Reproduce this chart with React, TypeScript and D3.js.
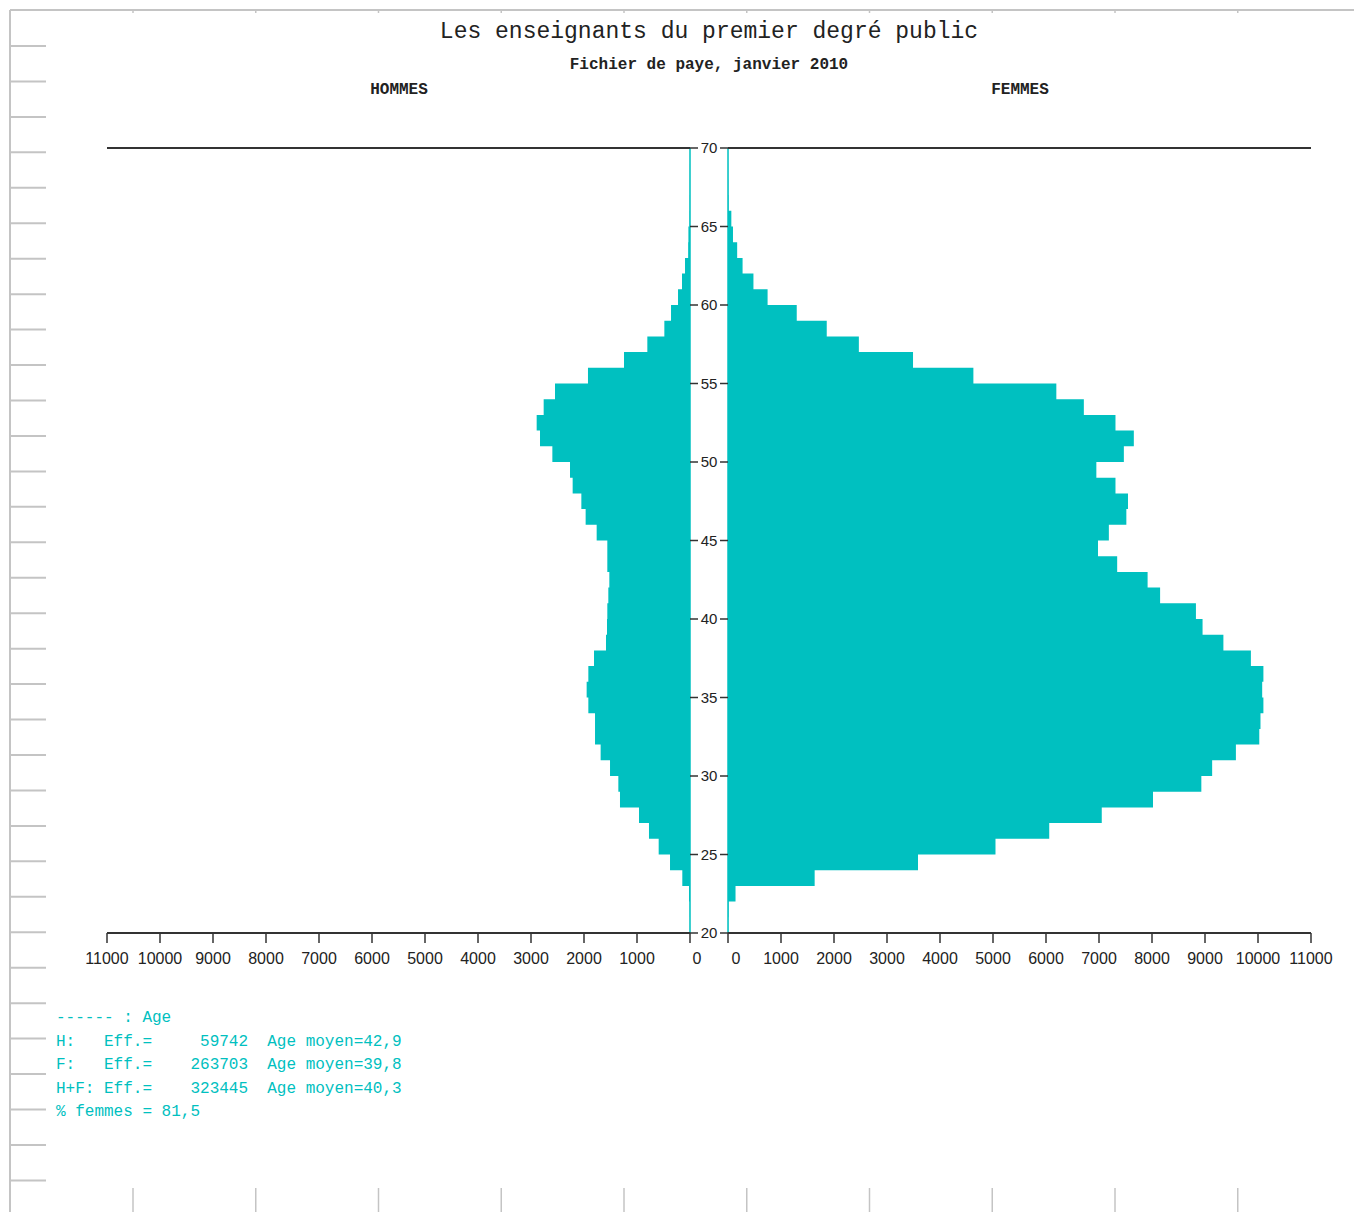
import React, { useEffect } from 'react';
import * as d3 from 'd3';

// ---- Data ----
const AGES = [20, 21, 22, 23, 24, 25, 26, 27, 28, 29, 30, 31, 32, 33, 34, 35, 36, 37, 38, 39,
  40, 41, 42, 43, 44, 45, 46, 47, 48, 49, 50, 51, 52, 53, 54, 55, 56, 57, 58, 59,
  60, 61, 62, 63, 64, 65, 66, 67, 68, 69];

const HOMMES = [2, 4, 19, 145, 377, 591, 774, 962, 1321, 1352,
  1509, 1686, 1792, 1792, 1918, 1950, 1918, 1811, 1585, 1566,
  1560, 1541, 1522, 1560, 1560, 1761, 1969, 2050, 2214, 2264,
  2597, 2830, 2893, 2761, 2547, 1925, 1245, 805, 484, 358,
  226, 151, 94, 35, 30, 8, 5, 3, 2, 1];

const FEMMES = [5, 10, 142, 1635, 3585, 5047, 6061, 7052, 8019, 8931,
  9135, 9583, 10024, 10047, 10102, 10079, 10102, 9866, 9347, 8954,
  8829, 8153, 7917, 7343, 6981, 7186, 7516, 7547, 7311, 6950,
  7469, 7657, 7311, 6714, 6195, 4630, 3491, 2469, 1863, 1297,
  747, 480, 275, 173, 94, 63, 10, 5, 3, 2];

const VALUE_TICKS = [0, 1000, 2000, 3000, 4000, 5000, 6000, 7000, 8000, 9000, 10000, 11000];
const AGE_TICKS = [20, 25, 30, 35, 40, 45, 50, 55, 60, 65, 70];

const TITLE = 'Les enseignants du premier degré public';
const SUBTITLE = 'Fichier de paye, janvier 2010';
const LEFT_LABEL = 'HOMMES';
const RIGHT_LABEL = 'FEMMES';
const LEGEND_LINES = [
  '------ : Age',
  'H:   Eff.=     59742  Age moyen=42,9',
  'F:   Eff.=    263703  Age moyen=39,8',
  'H+F: Eff.=    323445  Age moyen=40,3',
  '% femmes = 81,5',
];

// ---- Layout ----
const W = 1354;
const H = 1212;
const CYAN = '#00c0c0';
const AXIS = '#333333';
const FRAME = '#c4c4c4';

export default function App() {
  useEffect(() => {
    document.body.style.margin = '0';
  }, []);

  const y = d3.scaleLinear().domain([20, 70]).range([933, 148]);
  const xL = d3.scaleLinear().domain([0, 11000]).range([690, 107]);
  const xR = d3.scaleLinear().domain([0, 11000]).range([728, 1311]);

  type P = { age: number; v: number };
  const menPts: P[] = AGES.map((a, i) => ({ age: a, v: HOMMES[i] }));
  menPts.push({ age: 70, v: HOMMES[HOMMES.length - 1] });
  const womenPts: P[] = AGES.map((a, i) => ({ age: a, v: FEMMES[i] }));
  womenPts.push({ age: 70, v: FEMMES[FEMMES.length - 1] });

  const menArea = d3.area<P>()
    .y(d => y(d.age))
    .x0(xL(0))
    .x1(d => xL(d.v))
    .curve(d3.curveStepBefore);
  const womenArea = d3.area<P>()
    .y(d => y(d.age))
    .x0(xR(0))
    .x1(d => xR(d.v))
    .curve(d3.curveStepBefore);

  const midX = (xL(0) + xR(0)) / 2;

  // frame decoration
  const frameLeftTicks = d3.range(33).map(i => 46 + i * 35.45);
  const frameXTicks = d3.range(10).map(i => 133 + i * 122.75);

  const mono = '"Liberation Mono", "DejaVu Sans Mono", monospace';
  const sans = '"Liberation Sans", Arial, sans-serif';

  return (
    <svg
      width={W}
      height={H}
      viewBox={`0 0 ${W} ${H}`}
      style={{ position: 'absolute', left: 0, top: 0, background: '#fff', display: 'block' }}
    >
      <rect x={0} y={0} width={W} height={H} fill="#fff" />

      {/* frame */}
      <line x1={10} y1={10} x2={10} y2={H} stroke={FRAME} strokeWidth={2} />
      <line x1={10} y1={10} x2={W} y2={10} stroke={FRAME} strokeWidth={2} />
      {frameLeftTicks.map((ty, i) => (
        <line key={'fl' + i} x1={10} x2={46} y1={ty} y2={ty} stroke={FRAME} strokeWidth={2} />
      ))}
      {frameXTicks.map((tx, i) => (
        <g key={'fx' + i}>
          <line x1={tx} x2={tx} y1={10} y2={13} stroke={FRAME} strokeWidth={1.5} />
          <line x1={tx} x2={tx} y1={1188} y2={H} stroke={FRAME} strokeWidth={1.5} />
        </g>
      ))}

      {/* titles */}
      <text x={709} y={38} textAnchor="middle" fontFamily={mono} fontSize={23} fill="#222">{TITLE}</text>
      <text x={709} y={69} textAnchor="middle" fontFamily={mono} fontSize={16} fontWeight="bold" fill="#222">{SUBTITLE}</text>
      <text x={399} y={94} textAnchor="middle" fontFamily={mono} fontSize={16} fontWeight="bold" fill="#222">{LEFT_LABEL}</text>
      <text x={1020} y={94} textAnchor="middle" fontFamily={mono} fontSize={16} fontWeight="bold" fill="#222">{RIGHT_LABEL}</text>

      {/* bars */}
      <path d={menArea(menPts) || ''} fill={CYAN} />
      <path d={womenArea(womenPts) || ''} fill={CYAN} />

      {/* zero lines */}
      <line x1={xL(0)} x2={xL(0)} y1={y(70)} y2={y(20)} stroke={CYAN} strokeWidth={1.5} />
      <line x1={xR(0)} x2={xR(0)} y1={y(70)} y2={y(20)} stroke={CYAN} strokeWidth={1.5} />

      {/* top and bottom axis lines */}
      {[70, 20].map(a => (
        <g key={'h' + a}>
          <line x1={xL(11000)} x2={xL(0)} y1={y(a)} y2={y(a)} stroke={AXIS} strokeWidth={2} />
          <line x1={xR(0)} x2={xR(11000)} y1={y(a)} y2={y(a)} stroke={AXIS} strokeWidth={2} />
        </g>
      ))}

      {/* value ticks and labels */}
      {VALUE_TICKS.map(v => (
        <g key={'vt' + v}>
          <line x1={xL(v)} x2={xL(v)} y1={y(20)} y2={y(20) + 10} stroke={AXIS} strokeWidth={1.5} />
          <line x1={xR(v)} x2={xR(v)} y1={y(20)} y2={y(20) + 10} stroke={AXIS} strokeWidth={1.5} />
          <text x={xL(v) + (v === 0 ? 7 : 0)} y={964} textAnchor="middle" fontFamily={sans} fontSize={16} fill="#222">{v}</text>
          <text x={xR(v) + (v === 0 ? 8 : 0)} y={964} textAnchor="middle" fontFamily={sans} fontSize={16} fill="#222">{v}</text>
        </g>
      ))}

      {/* age ticks in the middle */}
      {AGE_TICKS.map(a => (
        <g key={'at' + a}>
          <line x1={xL(0)} x2={xL(0) + 8} y1={y(a)} y2={y(a)} stroke={AXIS} strokeWidth={1.5} />
          <line x1={xR(0) - 8} x2={xR(0)} y1={y(a)} y2={y(a)} stroke={AXIS} strokeWidth={1.5} />
          <text x={midX} y={y(a)} dy="0.36em" textAnchor="middle" fontFamily={sans} fontSize={15} fill="#222">{a}</text>
        </g>
      ))}

      {/* legend */}
      {LEGEND_LINES.map((t, i) => (
        <text
          key={'lg' + i}
          x={56}
          y={1022 + i * 23.5}
          fontFamily={mono}
          fontSize={16}
          fill={CYAN}
          style={{ whiteSpace: 'pre' }}
        >{t}</text>
      ))}
    </svg>
  );
}
